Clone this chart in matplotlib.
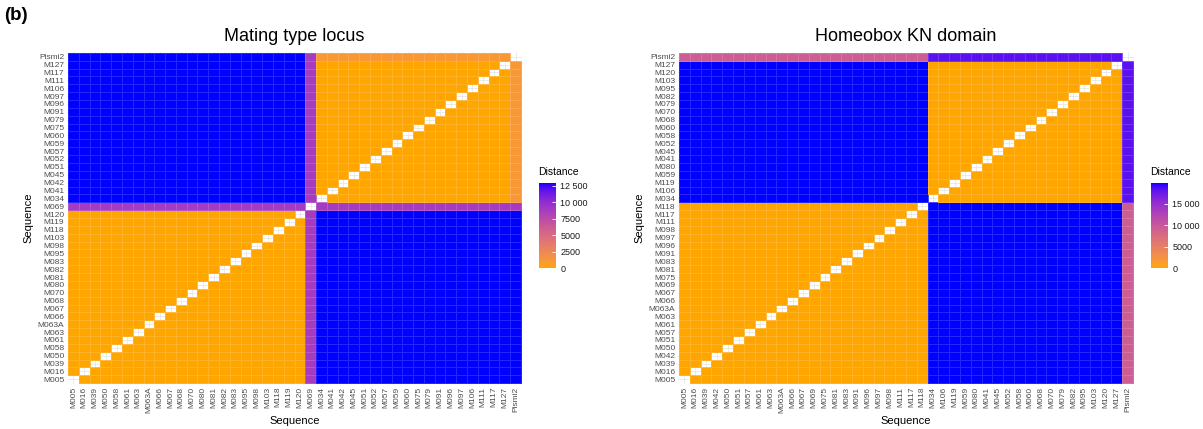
import numpy as np
import matplotlib
matplotlib.use("Agg")
import matplotlib.pyplot as plt
from matplotlib.colors import ListedColormap

plt.rcParams['font.family'] = ['Liberation Sans', 'DejaVu Sans']

# ---- Mating type locus ----
mat_group_a = ['M005', 'M016', 'M039', 'M050', 'M058', 'M061', 'M063', 'M063A', 'M066',
               'M067', 'M068', 'M070', 'M080', 'M081', 'M082', 'M083', 'M095', 'M098',
               'M103', 'M118', 'M119', 'M120']
mat_mid = ['M069']
mat_group_b = ['M034', 'M041', 'M042', 'M045', 'M051', 'M052', 'M057', 'M059', 'M060',
               'M075', 'M079', 'M091', 'M096', 'M097', 'M106', 'M111', 'M117', 'M127']
mat_outgroup = ['Pismi2']
mat_within = 0
mat_between = 12900
mat_mid_dist = 8900
mat_out_to_a = 12900
mat_out_to_b = 1100
mat_ticks = [0, 2500, 5000, 7500, 10000, 12500]

# ---- Homeobox KN domain ----
hb_group_a = ['M005', 'M016', 'M039', 'M042', 'M050', 'M051', 'M057', 'M061', 'M063',
              'M063A', 'M066', 'M067', 'M069', 'M075', 'M081', 'M083', 'M091', 'M096',
              'M097', 'M098', 'M111', 'M117', 'M118']
hb_group_b = ['M034', 'M106', 'M119', 'M059', 'M080', 'M041', 'M045', 'M052', 'M058',
              'M060', 'M068', 'M070', 'M079', 'M082', 'M095', 'M103', 'M120', 'M127']
hb_outgroup = ['Pismi2']
hb_within = 0
hb_between = 19900
hb_out_to_a = 9300
hb_out_to_b = 18300
hb_ticks = [0, 5000, 10000, 15000]


def block_matrix(groups, dist):
    labels = [s for g in groups for s in g]
    gid = [i for i, g in enumerate(groups) for _ in g]
    n = len(labels)
    m = np.zeros((n, n))
    for i in range(n):
        for j in range(n):
            m[i, j] = dist[gid[i]][gid[j]]
    m = np.ma.masked_where(np.eye(n, dtype=bool), m)
    return labels, m


# orange -> blue interpolated in CIELAB (like ggplot's scale_fill_gradient)
def srgb_to_lab(rgb):
    c = np.asarray(rgb, float)
    c = np.where(c > 0.04045, ((c + 0.055) / 1.055) ** 2.4, c / 12.92)
    M = np.array([[0.4124, 0.3576, 0.1805], [0.2126, 0.7152, 0.0722], [0.0193, 0.1192, 0.9505]])
    xyz = M @ c / np.array([0.95047, 1.0, 1.08883])
    f = np.where(xyz > 0.008856, np.cbrt(xyz), 7.787 * xyz + 16 / 116)
    return np.array([116 * f[1] - 16, 500 * (f[0] - f[1]), 200 * (f[1] - f[2])])


def lab_to_srgb(lab):
    L, a, b = lab
    fy = (L + 16) / 116
    fx = fy + a / 500
    fz = fy - b / 200
    f = np.array([fx, fy, fz])
    xyz = np.where(f ** 3 > 0.008856, f ** 3, (f - 16 / 116) / 7.787) * np.array([0.95047, 1.0, 1.08883])
    Minv = np.array([[3.2406, -1.5372, -0.4986], [-0.9689, 1.8758, 0.0415], [0.0557, -0.2040, 1.0570]])
    c = Minv @ xyz
    c = np.where(c > 0.0031308, 1.055 * np.clip(c, 0, None) ** (1 / 2.4) - 0.055, 12.92 * c)
    return np.clip(c, 0, 1)


lo = srgb_to_lab((1.0, 0.647, 0.0))
hi = srgb_to_lab((0.0, 0.0, 1.0))
cmap = ListedColormap([lab_to_srgb(lo + (hi - lo) * t) for t in np.linspace(0, 1, 256)])

mat_labels, mat_m = block_matrix(
    [mat_group_a, mat_mid, mat_group_b, mat_outgroup],
    [[mat_within, mat_mid_dist, mat_between, mat_out_to_a],
     [mat_mid_dist, 0, mat_mid_dist, mat_mid_dist],
     [mat_between, mat_mid_dist, mat_within, mat_out_to_b],
     [mat_out_to_a, mat_mid_dist, mat_out_to_b, 0]])

hb_labels, hb_m = block_matrix(
    [hb_group_a, hb_group_b, hb_outgroup],
    [[hb_within, hb_between, hb_out_to_a],
     [hb_between, hb_within, hb_out_to_b],
     [hb_out_to_a, hb_out_to_b, 0]])

fig = plt.figure(figsize=(12.03, 4.29), dpi=100)


def heatmap(ax_rect, cax_rect, labels, m, title, ticks, title_x):
    ax = fig.add_axes(ax_rect)
    n = len(labels)
    ax.set_axisbelow(True)
    ax.grid(True, color='#E6E6E6', lw=0.6)
    mesh = ax.pcolormesh(np.arange(n + 1) - 0.5, np.arange(n + 1) - 0.5, m, cmap=cmap,
                         vmin=0, vmax=m.max(), edgecolors=(1, 1, 1, 0.15), linewidth=0.5)
    ax.set_xlim(-0.6, n - 0.4)
    ax.set_ylim(-0.6, n - 0.4)
    ax.set_xticks(range(n))
    ax.set_yticks(range(n))
    ax.set_xticklabels(labels, rotation=90, fontsize=6.0, color='#4D4D4D')
    ax.set_yticklabels(labels, fontsize=6.0, color='#4D4D4D')
    ax.tick_params(length=0, pad=2)
    for s in ax.spines.values():
        s.set_visible(False)
    ax.set_xlabel('Sequence', fontsize=8, labelpad=2)
    ax.set_ylabel('Sequence', fontsize=8, labelpad=3)
    ax.set_title(title, fontsize=13, pad=8)

    cax = fig.add_axes(cax_rect)
    cb = fig.colorbar(mesh, cax=cax, ticks=ticks)
    cb.outline.set_visible(False)
    cb.ax.set_yticklabels([f'{t:,}'.replace(',', ' ') if t >= 10000 else str(t) for t in ticks],
                          fontsize=6.5, color='#1A1A1A')
    cb.ax.tick_params(color='white', direction='in', length=3, width=0.6, pad=3)
    fig.text(title_x, 1 - 172 / 429, 'Distance', fontsize=7.5, va='center', ha='left')
    return ax


W, H = 1203, 429
heatmap([67 / W, 1 - 384 / H, 455 / W, 332 / H], [539 / W, 1 - 268 / H, 17 / W, 85 / H],
        mat_labels, mat_m, 'Mating type locus', mat_ticks, 538 / W)
heatmap([678 / W, 1 - 384 / H, 456 / W, 332 / H], [1151 / W, 1 - 268 / H, 17 / W, 85 / H],
        hb_labels, hb_m, 'Homeobox KN domain', hb_ticks, 1150 / W)

fig.text(4 / W, 1 - 15 / H, '(b)', fontsize=13.5, fontweight='bold', va='center', ha='left')

fig.savefig('out.png', dpi=100)
